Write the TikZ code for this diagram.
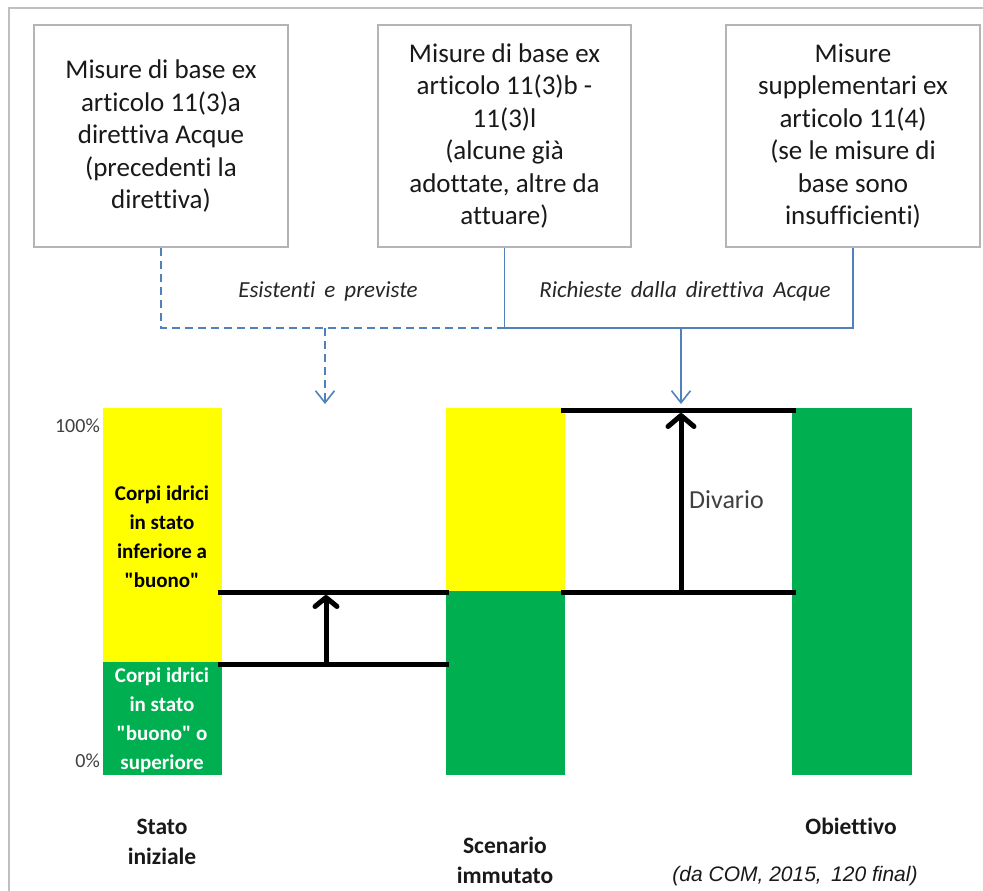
\documentclass[tikz,border=0pt]{standalone}
\usepackage{fontspec}
\setmainfont{Carlito}[Ligatures={TeXOff,NoCommon}]
\newfontfamily\citefont{Liberation Sans}
\usetikzlibrary{arrows.meta}
\definecolor{ofgreen}{HTML}{00B050}
\definecolor{ofyellow}{HTML}{FFFF00}
\definecolor{ofblue}{HTML}{4F81BD}
\definecolor{framegray}{HTML}{BFBFBF}
\definecolor{boxgray}{HTML}{B4B4B4}
\definecolor{txtgray}{HTML}{404040}
\begin{document}
\begin{tikzpicture}[x=1pt,y=-1pt,
  boxstyle/.style={draw=boxgray, line width=2pt, fill=white, minimum width=254pt,
    minimum height=222pt, align=center, inner sep=0pt, text=black!90,
    font=\fontsize{27}{32.5}\selectfont},
  conn/.style={draw=ofblue, line width=1.8pt},
  dconn/.style={conn, dash pattern=on 8pt off 5pt},
  vtip/.style={-{Straight Barb[length=12pt,width=19pt,line width=1.6pt]}},
  level/.style={line width=5pt, black},
  bigarrow/.style={line width=5pt, black, -{Straight Barb[length=11pt,width=26pt,line width=5pt,round]}},
  bartxt/.style={align=center, inner sep=0pt, font=\fontsize{21}{29}\selectfont\bfseries},
  collabel/.style={align=center, inner sep=0pt, font=\fontsize{23.5}{30}\selectfont\bfseries, text=black!90},
  itlabel/.style={inner sep=0pt, font=\fontsize{23}{26}\selectfont\itshape, text=black!85},
  pct/.style={anchor=east, inner sep=0pt, font=\fontsize{20}{22}\selectfont, text=txtgray}]
\useasboundingbox (0,0) rectangle (983,891);
\fill[white] (0,0) rectangle (983,891);
% outer frame (top and left edges)
\draw[framegray, line width=2pt] (9,891) -- (9,8) -- (983,8);

% top boxes
\node[boxstyle] (b1) at (161,136) {Misure di base ex\\articolo 11(3)a\\direttiva Acque\\(precedenti la\\direttiva)};
\node[boxstyle, minimum width=253pt] (b2) at (504.5,136) {Misure di base ex\\articolo 11(3)b -\\11(3)l\\(alcune già\\adottate, altre da\\attuare)};
\node[boxstyle] (b3) at (853,136) {Misure\\supplementari ex\\articolo 11(4)\\(se le misure di\\base sono\\insufficienti)};

% connectors
\coordinate (jm) at (505,328);
\coordinate (d1) at (325,328);
\coordinate (t1) at (325,404);
\coordinate (d2) at (681,328);
\coordinate (t2) at (681,404);
\draw[dconn] (b1.south) |- (jm);
\draw[conn] (b2.south) -- (b2.south|-jm) -| (b3.south);
\draw[dconn, vtip] (d1) -- (t1);
\draw[conn, vtip] (d2) -- (t2);

\node[itlabel] (l1) at (328,291) {Esistenti\, e\, previste};
\node[itlabel] (l2) at (685,291) {Richieste\, dalla\, direttiva\, Acque};

% bars
\fill[ofyellow] (103,408) rectangle (222,662);
\fill[ofgreen] (103,662) rectangle (222,775);
\fill[ofyellow] (446,408) rectangle (565,591);
\fill[ofgreen] (446,591) rectangle (565,775);
\fill[ofgreen] (792,408) rectangle (912,775);

\node[bartxt, text=black] (ty) at (162,537) {Corpi idrici\\in stato\\inferiore a\\"buono"};
\node[bartxt, text=white] (tg) at (162,720) {Corpi idrici\\in stato\\"buono" o\\superiore};

\node[pct] (p100) at (100,426) {100\%};
\node[pct] (p0) at (100,761) {0\%};

% level lines
\draw[level] (218,592) -- (449,592);
\draw[level] (218,664) -- (449,664);
\draw[level] (561,410) -- (796,410);
\draw[level] (561,592) -- (796,592);

\coordinate (a1s) at (326,664);
\coordinate (a1e) at (326,595);
\coordinate (a2s) at (681,592);
\coordinate (a2e) at (681,413);
\draw[bigarrow, -{Straight Barb[length=9pt,width=22pt,line width=5pt,round]}] (a1s) -- (a1e);
\draw[bigarrow] (a2s) -- (a2e);

\node[anchor=west, inner sep=0pt, font=\fontsize{26}{30}\selectfont, text=txtgray] (div) at (689,500) {Divario};

% column labels
\node[collabel] (c1) at (162,842) {Stato\\iniziale};
\node[collabel] (c2) at (505,860) {Scenario\\immutato};
\node[collabel] (c3) at (851,826) {Obiettivo};

\node[inner sep=0pt, font=\fontsize{21}{24}\selectfont\citefont\itshape, text=black!90] (cite) at (795,876) {(da COM, 2015, \,120 final)};
\end{tikzpicture}
\end{document}
